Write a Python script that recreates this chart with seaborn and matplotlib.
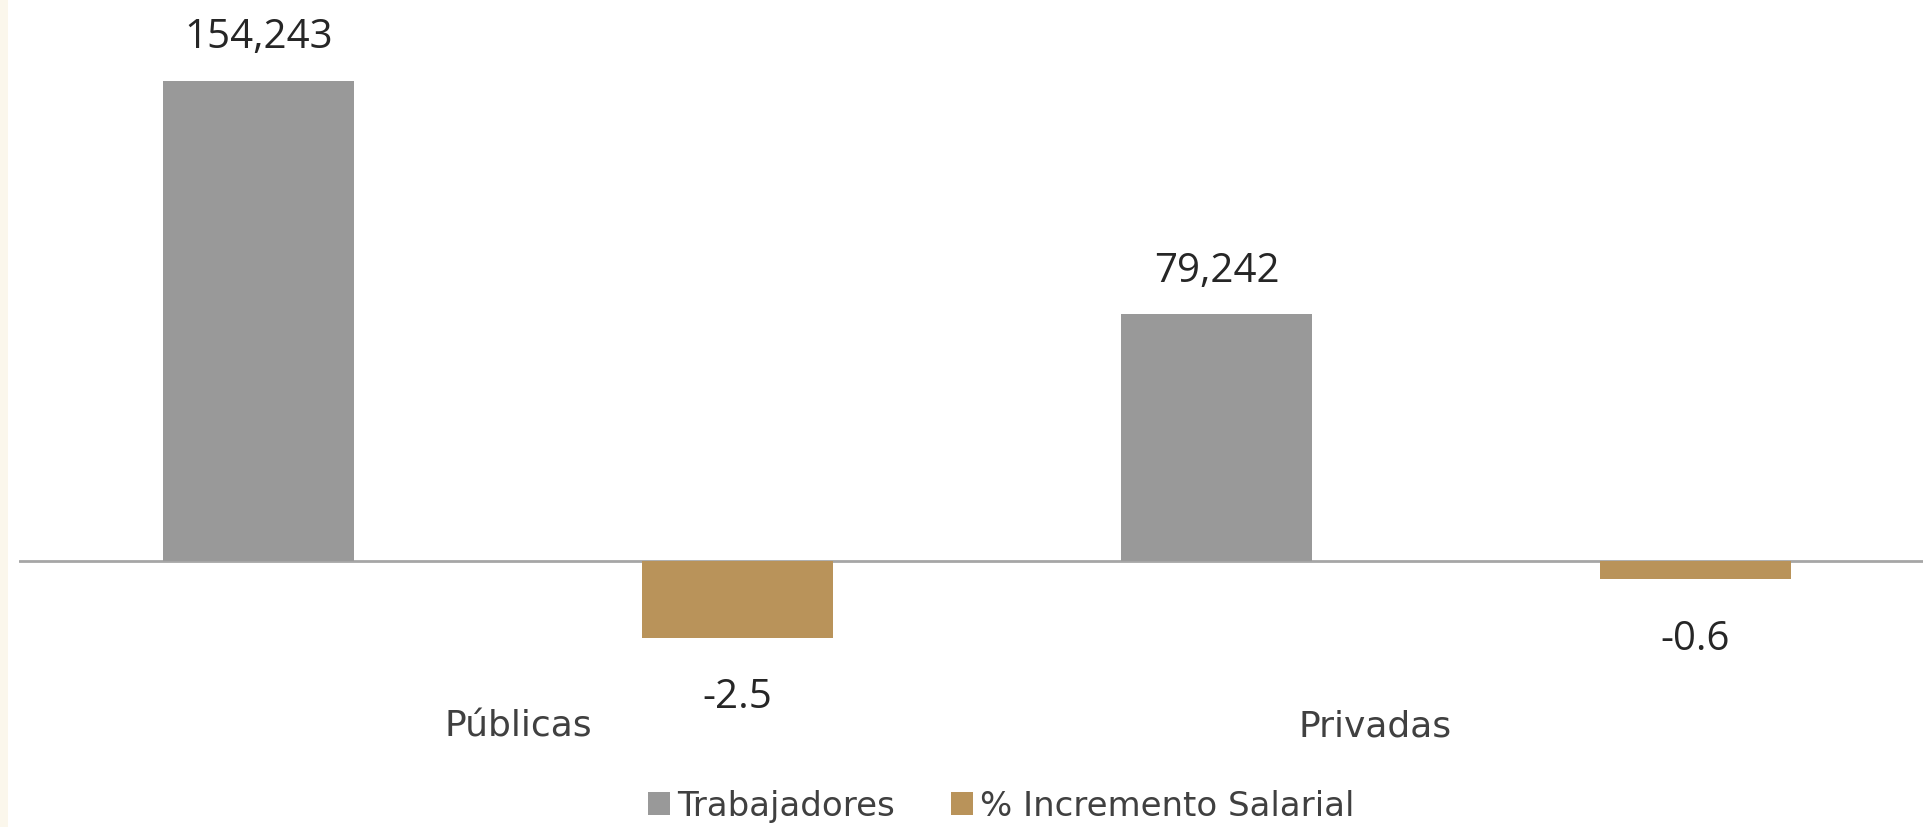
import matplotlib
matplotlib.use("Agg")
import matplotlib.pyplot as plt
from matplotlib.patches import Patch, Rectangle
import pandas as pd
import seaborn as sns

# Data
categorias = ["Públicas", "Privadas"]
series = ["Trabajadores", "% Incremento Salarial"]
trabajadores = [154243, 79242]
incremento = [-2.5, -0.6]
etiquetas_trabajadores = ["154,243", "79,242"]
etiquetas_incremento = ["-2.5", "-0.6"]

colores = {"Trabajadores": "#999999", "% Incremento Salarial": "#B9935A"}

sns.set_theme(style="white")
plt.rcParams["font.family"] = ["Open Sans", "DejaVu Sans"]

df = pd.DataFrame({
    "categoria": categorias * 2,
    "serie": [series[0]] * len(categorias) + [series[1]] * len(categorias),
    "valor": trabajadores + incremento,
})

W, H = 1924, 828
fig = plt.figure(figsize=(W / 100, H / 100), dpi=100)
fig.patch.set_facecolor("white")
# faint cream strip along the left border
fig.patches.append(Rectangle((0, 0), 8 / W, 1, transform=fig.transFigure,
                             facecolor="#FBF7EC", edgecolor="none", zorder=0))

ax_top, ax_bottom = 20, 705
ax = fig.add_axes([19 / W, (H - ax_bottom) / H, 1916 / W, (ax_bottom - ax_top) / H])
ax2 = ax.twinx()

common = dict(x="categoria", y="valor", hue="serie", hue_order=series,
              order=categorias, palette=colores, dodge=True, width=1.0,
              gap=0.6, errorbar=None, legend=False, saturation=1,
              linewidth=0, edgecolor="none")
sns.barplot(data=df[df.serie == series[0]], ax=ax, **common)
sns.barplot(data=df[df.serie == series[1]], ax=ax2, **common)

# both value axes share the zero line
zero_frac = (ax_bottom - 562) / (ax_bottom - ax_top)
top1 = 174000
top2 = 17.7
ax.set_ylim(-top1 * zero_frac / (1 - zero_frac), top1)
ax2.set_ylim(-top2 * zero_frac / (1 - zero_frac), top2)
ax.set_xlim(-0.5, 1.5)

ax.axhline(0, color="#A6A6A6", lw=2, zorder=0)

for a in (ax, ax2):
    for s in a.spines.values():
        s.set_visible(False)
    a.set_ylabel("")
    a.set_xlabel("")
    a.set_yticks([])
    a.tick_params(length=0)

ax.set_xticks([0.021, 0.916])
ax.set_xticklabels(categorias, fontsize=26, color="#404040",
                   family=["DejaVu Sans"])
ax.tick_params(axis="x", pad=3)


def filled(a):
    for c in a.containers:
        if len(c) and all(p is not None for p in c):
            return c


ax.bar_label(filled(ax), labels=etiquetas_trabajadores, padding=17,
             fontsize=29, color="#262626")
ax2.bar_label(filled(ax2), labels=etiquetas_incremento, padding=28,
              fontsize=29, color="#262626")

handles = [Patch(facecolor=colores[s], edgecolor="none", label=s) for s in series]
fig.legend(handles=handles, loc="center", bbox_to_anchor=(1001 / W, (H - 807) / H),
           ncol=2, frameon=False, labelcolor="#404040",
           prop={"family": ["DejaVu Sans"], "size": 24.5},
           handlelength=0.65, handleheight=0.65, handletextpad=0.2,
           columnspacing=1.65)

fig.savefig("out.png", dpi=100)
